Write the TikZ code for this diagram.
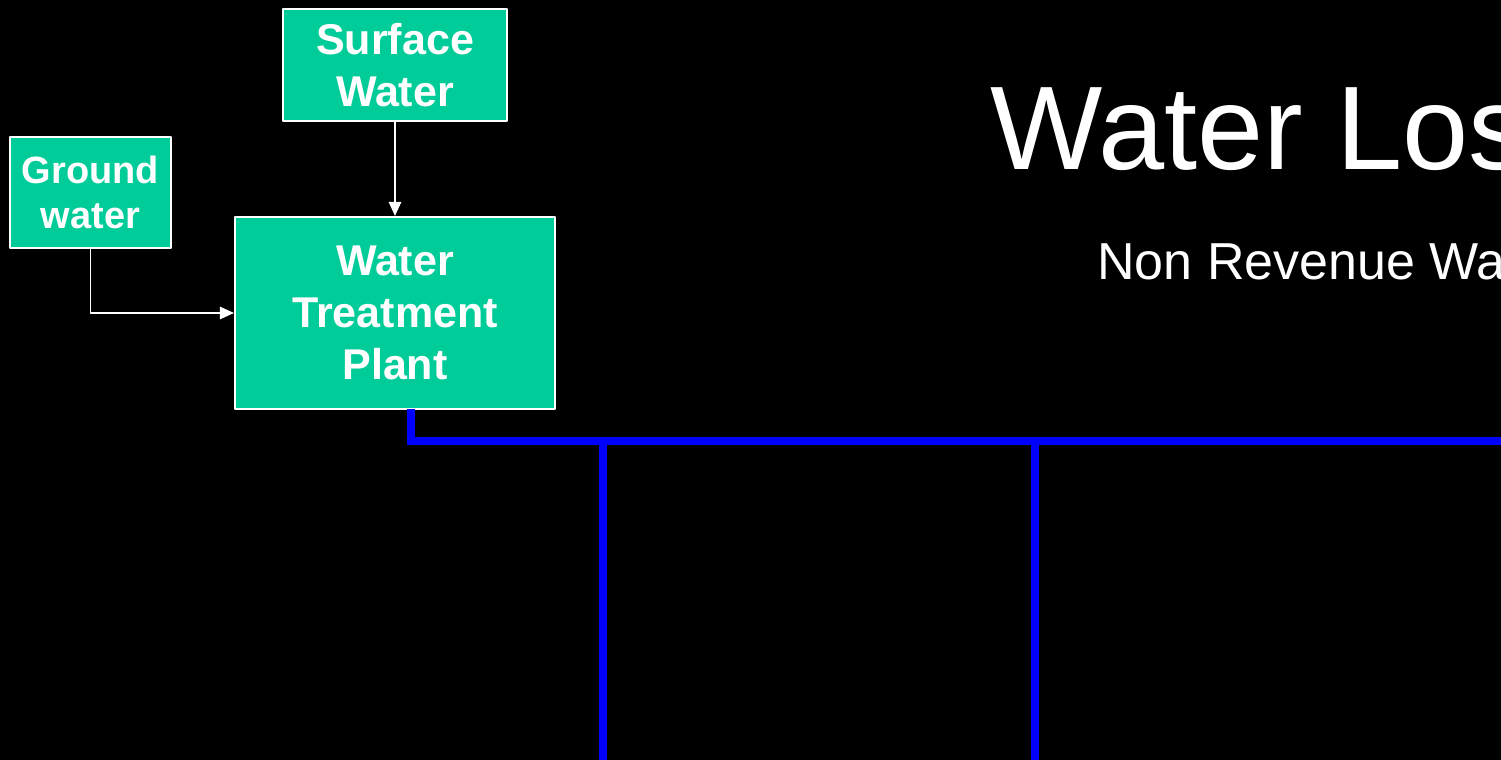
\documentclass[tikz,border=0pt]{standalone}
\usepackage{fontspec}
\usepackage{tikz}
\usetikzlibrary{calc}
\usetikzlibrary{arrows.meta}
\setmainfont{Liberation Sans}
\definecolor{qqccaa}{rgb}{0.,0.8,0.6}
\definecolor{qqqqff}{rgb}{0.,0.,1.}
\tikzstyle{every node}=[font=\normalsize]
\tikzset{
  tank/.style={draw=white,line width=1.2pt,fill=qqccaa,text=white,align=center,inner sep=0pt,
    font=\fontsize{24.5}{29.6}\selectfont\bfseries},
  feed/.style={draw=white,line width=1.1pt,-{Triangle[length=8pt,width=7pt]}},
  pipe/.style={draw=qqqqff,line width=4pt,line join=miter,line cap=butt}
}
\begin{document}
\begin{tikzpicture}[line cap=round,line join=round,x=0.02cm,y=-0.02cm]
            \fill[black] (0,0) rectangle (1501,760);
            \useasboundingbox (0,0) rectangle (1501,760);
            \clip (0,0) rectangle (1501,760);
            % sources and plant
            \node [tank,minimum width=4.48cm,minimum height=2.24cm] (surface) at (395,65) {Surface\\Water};
            \node [tank,minimum width=3.22cm,minimum height=2.22cm,font=\fontsize{21.6}{25.6}\selectfont\bfseries] (ground) at (90.5,192.5) {Ground\\water};
            \node [tank,minimum width=6.4cm,minimum height=3.84cm] (wtp) at (395,313) {Water\\Treatment\\Plant};
            \draw [feed] (surface.south) -- (wtp.north);
            \draw [feed] (ground.south) |- (wtp.west);
            % distribution main
            \coordinate (tap) at (411,441);
            \coordinate (mainend) at (1520,441);
            \coordinate (b1) at (603,441);
            \coordinate (b1end) at (603,780);
            \coordinate (b2) at (1035,441);
            \coordinate (b2end) at (1035,780);
            \draw [pipe] ($(wtp.south -| tap)+(0,-1)$) -- (tap) -- (mainend);
            \draw [pipe] (b1) -- (b1end);
            \draw [pipe] (b2) -- (b2end);
            % titles
            \node [anchor=base west,inner sep=0pt,text=white,font=\fontsize{67.7}{80}\selectfont] (title) at (990,170) {Water Loss};
            \node [anchor=base west,inner sep=0pt,text=white,font=\fontsize{29.6}{35}\selectfont] (subtitle) at (1097,279) {Non Revenue Water};
\end{tikzpicture}
\end{document}
